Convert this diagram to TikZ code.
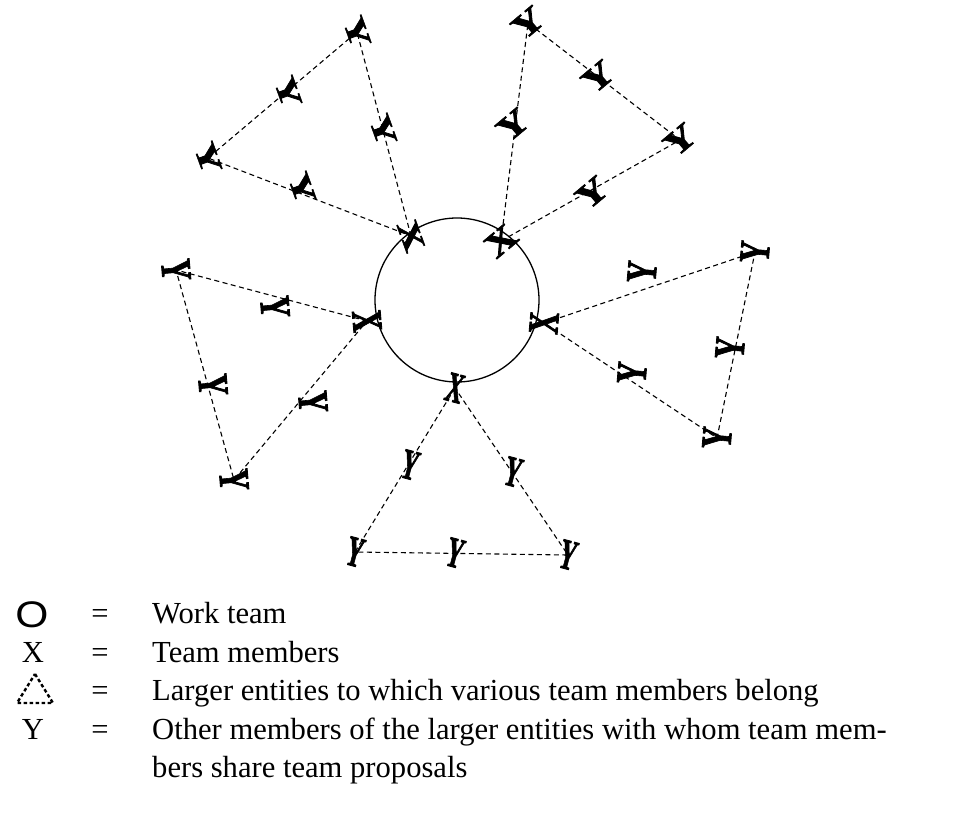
\documentclass[tikz,border=0pt]{standalone}
\usepackage{fontspec}
\setmainfont{Liberation Serif}
\newfontfamily\legsans{Liberation Sans}
\newfontfamily\heavy[FakeBold=2]{Liberation Serif Bold}
\tikzset{
  dline/.style={dash pattern=on 5pt off 3.5pt, line width=1.1pt},
  glyph/.style={inner sep=0pt, font=\heavy\fontsize{43}{43}\selectfont},
  ga/.style={glyph, rotate=-70, yscale=0.7},
  gb/.style={glyph, rotate=40, yscale=0.8},
  gc/.style={glyph, rotate=85, xscale=0.7},
  gd/.style={glyph, rotate=-15, xscale=0.55},
  ge/.style={glyph, rotate=-85, xscale=0.7},
  legtext/.style={anchor=base west, inner sep=0pt, font=\fontsize{30.6}{38.5}\selectfont},
  legsym/.style={anchor=base, inner sep=0pt, font=\fontsize{30.6}{38.5}\selectfont},
  team/.style={line width=1.3pt},
  legtri/.style={dash pattern=on 3.5pt off 2.5pt, line width=2.4pt}
}
\begin{document}
\begin{tikzpicture}[x=1pt,y=-1pt]
\useasboundingbox (0,0) rectangle (956,821);
% work team circle
\node[circle, draw, team, minimum size=164pt, inner sep=0pt] (team) at (457,300) {};
% team members
\node[ga] (X1) at (411,236) {X};
\node[gb] (X2) at (501,241) {X};
\node[gc] (X3) at (544,323) {X};
\node[gd] (X4) at (455,388) {X};
\node[ge] (X5) at (367,321) {X};
% group 1
\node[ga] (A1) at (357,32) {Y};
\node[ga] (B1) at (208,158) {Y};
\node[ga] (P1) at (383,130) {Y};
\node[ga] (Q1) at (288,92) {Y};
\node[ga] (R1) at (302,188) {Y};
% group 2
\node[gb] (A2) at (528,23) {Y};
\node[gb] (B2) at (680,140) {Y};
\node[gb] (P2) at (513,125) {Y};
\node[gb] (Q2) at (598,77) {Y};
\node[gb] (R2) at (592,193) {Y};
% group 3
\node[gc] (A3) at (755,252) {Y};
\node[gc] (B3) at (717,438) {Y};
\node[gc] (P3) at (642,272) {Y};
\node[gc] (Q3) at (730,348) {Y};
\node[gc] (R3) at (632,373) {Y};
% group 4
\node[gd] (A4) at (355,552) {Y};
\node[gd] (B4) at (568,555) {Y};
\node[gd] (P4) at (410,465) {Y};
\node[gd] (Q4) at (513,472) {Y};
\node[gd] (R4) at (455,553) {Y};
% group 5
\node[ge] (A5) at (176,270) {Y};
\node[ge] (B5) at (234,480) {Y};
\node[ge] (P5) at (275,307) {Y};
\node[ge] (Q5) at (213,385) {Y};
\node[ge] (R5) at (313,402) {Y};
% larger entities (dashed triangles)
\draw[dline] (X1.center) -- (A1.center) -- (B1.center) -- (X1.center);
\draw[dline] (X2.center) -- (A2.center) -- (B2.center) -- (X2.center);
\draw[dline] (X3.center) -- (A3.center) -- (B3.center) -- (X3.center);
\draw[dline] (X4.center) -- (A4.center) -- (B4.center) -- (X4.center);
\draw[dline] (X5.center) -- (A5.center) -- (B5.center) -- (X5.center);
% legend
\node[legsym, font=\legsans\fontsize{37}{37}\selectfont, xscale=1.15] (lO) at (32,627) {O};
\node[legsym] (e1) at (100,623) {=};
\node[legtext] (t1) at (152,623) {Work team};
\node[legsym] (lX) at (33,662) {X};
\node[legsym] (e2) at (100,662) {=};
\node[legtext] (t2) at (152,662) {Team members};
\coordinate (ta) at (35,674);
\coordinate (tb) at (53,703);
\coordinate (tc) at (17,703);
\draw[legtri] (ta) -- (tb) -- (tc) -- cycle;
\node[legsym] (e3) at (100,700) {=};
\node[legtext] (t3) at (152,700) {Larger entities to which various team members belong};
\node[legsym] (lY) at (33,739) {Y};
\node[legsym] (e4) at (100,739) {=};
\node[legtext] (t4) at (152,739) {Other members of the larger entities with whom team mem-};
\node[legtext] (t5) at (152,777) {bers share team proposals};
\end{tikzpicture}
\end{document}
